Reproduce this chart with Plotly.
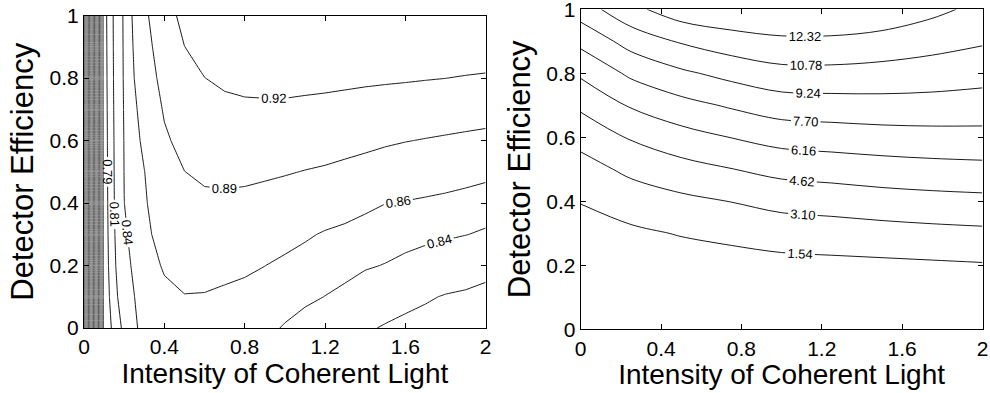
import plotly.graph_objects as go

# ---------------- data ----------------
# Left panel grid
X_LEFT = [0.0, 0.1, 0.2, 0.3, 0.4, 0.5, 0.6, 0.7, 0.8, 0.9, 1.0,
          1.1, 1.2, 1.3, 1.4, 1.5, 1.6, 1.7, 1.8, 1.9, 2.0]
Y_LEFT = [0.0, 0.1, 0.2, 0.3, 0.4, 0.5, 0.6, 0.7, 0.8, 0.9, 1.0]
Z_LEFT = [
    [0.36, 0.7756, 0.8156, 0.852, 0.853, 0.856, 0.856, 0.853, 0.849, 0.8445, 0.8385, 0.832, 0.8255, 0.819, 0.8133, 0.8078, 0.804, 0.8015, 0.799, 0.7965, 0.795],
    [0.36, 0.777, 0.826, 0.853, 0.857, 0.8593, 0.8588, 0.8565, 0.855, 0.852, 0.8477, 0.844, 0.8397, 0.8357, 0.8281, 0.8234, 0.8171, 0.8126, 0.8085, 0.8065, 0.803],
    [0.36, 0.778, 0.833, 0.854, 0.8614, 0.8669, 0.8676, 0.8657, 0.8631, 0.8602, 0.8562, 0.8528, 0.849, 0.8455, 0.8421, 0.8392, 0.8347, 0.8303, 0.8264, 0.8222, 0.8182],
    [0.36, 0.7785, 0.837, 0.8555, 0.8677, 0.8745, 0.8765, 0.8757, 0.8738, 0.8711, 0.8669, 0.8625, 0.8583, 0.8555, 0.8523, 0.8498, 0.8478, 0.8453, 0.843, 0.8406, 0.8373],
    [0.36, 0.779, 0.8398, 0.8575, 0.874, 0.8822, 0.8854, 0.8856, 0.8844, 0.8822, 0.8793, 0.8759, 0.8722, 0.8686, 0.8642, 0.8603, 0.8589, 0.8571, 0.8552, 0.853, 0.8508],
    [0.36, 0.7795, 0.8405, 0.8595, 0.8803, 0.8898, 0.8941, 0.8954, 0.895, 0.8934, 0.8916, 0.8893, 0.8873, 0.8842, 0.8808, 0.877, 0.8746, 0.8724, 0.8702, 0.8676, 0.8648],
    [0.36, 0.78, 0.841, 0.865, 0.8865, 0.8973, 0.9028, 0.905, 0.9055, 0.9048, 0.9038, 0.902, 0.9004, 0.8985, 0.8962, 0.8933, 0.8908, 0.8889, 0.8871, 0.8852, 0.8833],
    [0.36, 0.7805, 0.842, 0.870, 0.8924, 0.9049, 0.9114, 0.9146, 0.916, 0.9162, 0.916, 0.9147, 0.9135, 0.9119, 0.9102, 0.9083, 0.9066, 0.9051, 0.9036, 0.9021, 0.9007],
    [0.36, 0.781, 0.843, 0.877, 0.8978, 0.9124, 0.9198, 0.924, 0.9262, 0.927, 0.9274, 0.9267, 0.926, 0.925, 0.9239, 0.9231, 0.9223, 0.9212, 0.9202, 0.9187, 0.9175],
    [0.36, 0.7815, 0.8435, 0.881, 0.9031, 0.9198, 0.9285, 0.933, 0.936, 0.937, 0.938, 0.9382, 0.938, 0.9375, 0.937, 0.9371, 0.937, 0.936, 0.935, 0.934, 0.933],
    [0.36, 0.782, 0.844, 0.885, 0.9085, 0.9276, 0.937, 0.942, 0.946, 0.947, 0.949, 0.9497, 0.950, 0.950, 0.950, 0.951, 0.952, 0.951, 0.950, 0.949, 0.948],
]
LEFT_LABELED_LEVELS = [0.79, 0.81, 0.84, 0.86, 0.89, 0.92]
LEFT_DENSE_START, LEFT_DENSE_END, LEFT_DENSE_STEP = 0.374, 0.764, 0.026

# Right panel grid
X_RIGHT = [0.0, 0.25, 0.5, 0.75, 1.0, 1.25, 1.5, 1.75, 2.0]
Y_RIGHT = [0.0, 0.1, 0.2, 0.3, 0.4, 0.5, 0.6, 0.7, 0.8, 0.9, 1.0]
Z_RIGHT = [
    [0.0, 0.0, 0.0, 0.0, 0.0, 0.0, 0.0, 0.0, 0.0],
    [0.1, 0.17, 0.22, 0.3, 0.4, 0.42, 0.45, 0.5, 0.55],
    [0.4, 0.6, 0.75, 0.9, 1.07, 1.155, 1.23, 1.32, 1.42],
    [0.9, 1.255, 1.63, 1.93, 2.25, 2.38, 2.53, 2.67, 2.78],
    [1.6, 2.29, 2.76, 3.13, 3.57, 3.74, 3.96, 4.11, 4.22],
    [2.5, 3.43, 4.07, 4.58, 5.08, 5.28, 5.49, 5.64, 5.74],
    [3.6, 4.76, 5.57, 6.19, 6.74, 6.91, 7.07, 7.17, 7.22],
    [4.9, 6.31, 7.21, 7.88, 8.48, 8.60, 8.70, 8.68, 8.57],
    [6.4, 7.99, 8.97, 9.71, 10.30, 10.33, 10.20, 10.03, 9.80],
    [8.1, 9.83, 10.93, 11.65, 12.03, 12.03, 11.78, 11.35, 10.94],
    [10.0, 11.9, 13.2, 13.56, 13.73, 13.69, 13.39, 12.7, 11.9],
]
RIGHT_LABELED_LEVELS = [1.54, 3.10, 4.62, 6.16, 7.70, 9.24, 10.78, 12.32]

X_TICKS = [0, 0.4, 0.8, 1.2, 1.6, 2.0]
X_TICK_TEXT = ["0", "0.4", "0.8", "1.2", "1.6", "2"]
Y_TICKS = [0, 0.2, 0.4, 0.6, 0.8, 1.0]
Y_TICK_TEXT = ["0", "0.2", "0.4", "0.6", "0.8", "1"]
X_TITLE = "Intensity of Coherent Light"
Y_TITLE = "Detector Efficiency"

FONT = "Liberation Sans, Arial, Helvetica, sans-serif"

fig = go.Figure()


def add_level(x, y, z, level, xa, ya, smoothing, label=True):
    fig.add_trace(go.Contour(
        x=x, y=y, z=z, xaxis=xa, yaxis=ya,
        autocontour=False,
        contours=dict(start=level, end=level, size=1, coloring="none",
                      showlabels=label, labelformat=".2f",
                      labelfont=dict(family=FONT, size=13, color="black")),
        line=dict(color="black", width=0.9, smoothing=smoothing),
        showscale=False, hoverinfo="skip", showlegend=False,
    ))


# left panel: dense unlabeled contours near x = 0
fig.add_trace(go.Contour(
    x=X_LEFT, y=Y_LEFT, z=Z_LEFT, xaxis="x", yaxis="y",
    autocontour=False,
    contours=dict(start=LEFT_DENSE_START, end=LEFT_DENSE_END,
                  size=LEFT_DENSE_STEP, coloring="none", showlabels=False),
    line=dict(color="#222222", width=0.75, smoothing=0),
    showscale=False, hoverinfo="skip", showlegend=False,
))
for lv in LEFT_LABELED_LEVELS:
    add_level(X_LEFT, Y_LEFT, Z_LEFT, lv, "x", "y", 0)

for lv in RIGHT_LABELED_LEVELS:
    add_level(X_RIGHT, Y_RIGHT, Z_RIGHT, lv, "x2", "y2", 1)

W, H = 990, 393


def xdom(a, b):
    return [a / W, b / W]


def ydom(top, bottom):
    return [(H - bottom) / H, (H - top) / H]


axis_common = dict(
    showline=True, linecolor="black", linewidth=1, mirror="ticks",
    ticks="inside", ticklen=5, tickcolor="black", tickwidth=1,
    showgrid=False, zeroline=False, automargin=False,
    ticklabeloverflow="allow",
    tickfont=dict(family=FONT, size=21, color="black"),
)

fig.update_layout(
    width=W, height=H,
    margin=dict(l=0, r=0, t=0, b=0, autoexpand=False),
    paper_bgcolor="white", plot_bgcolor="white",
    font=dict(family=FONT, color="black"),
    xaxis=dict(domain=xdom(84, 485.7), range=[0, 2], anchor="y",
               tickvals=X_TICKS, ticktext=X_TICK_TEXT, ticklabelstandoff=0,
               title=dict(text=X_TITLE, font=dict(family=FONT, size=28), standoff=2),
               **axis_common),
    yaxis=dict(domain=ydom(15.5, 328), range=[0, 1], anchor="x",
               tickvals=Y_TICKS, ticktext=Y_TICK_TEXT, ticklabelstandoff=0,
               title=dict(text=Y_TITLE, font=dict(family=FONT, size=31), standoff=6),
               **axis_common),
    xaxis2=dict(domain=xdom(580.7, 982.5), range=[0, 2], anchor="y2",
                tickvals=X_TICKS, ticktext=X_TICK_TEXT, ticklabelstandoff=0,
                title=dict(text=X_TITLE, font=dict(family=FONT, size=28), standoff=2),
                **axis_common),
    yaxis2=dict(domain=ydom(9.3, 329.3), range=[0, 1], anchor="x2",
                tickvals=Y_TICKS, ticktext=Y_TICK_TEXT, ticklabelstandoff=0,
                title=dict(text=Y_TITLE, font=dict(family=FONT, size=31), standoff=6),
                **axis_common),
)

fig.write_html("out.html", config={"displayModeBar": False},
               post_script="document.body.style.margin='0px';")
